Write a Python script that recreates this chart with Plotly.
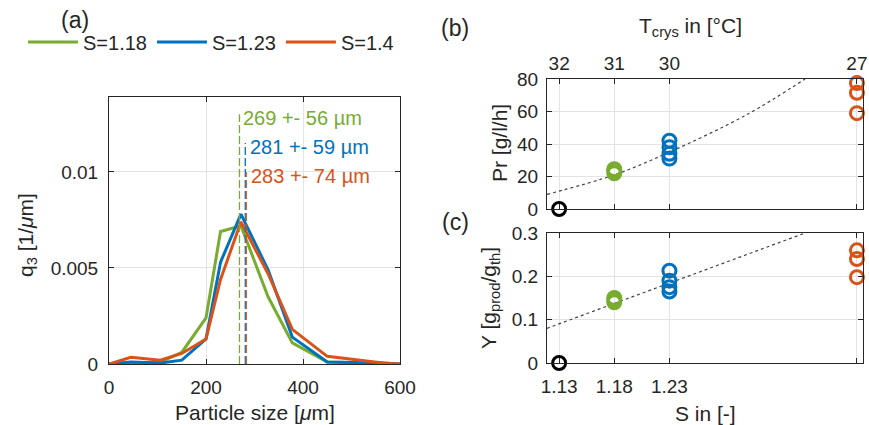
import plotly.graph_objects as go

# ---------------- data ----------------
size_um = [0, 45, 106, 150, 200, 230, 272, 328, 378, 450, 565, 600]
q3_S118 = [0, 0.00005, 0.0001, 0.0006, 0.0024, 0.0069, 0.0072, 0.0035, 0.0011, 0.0001, 0, 0]
q3_S123 = [0, 0.0001, 0.00005, 0.0002, 0.0013, 0.0053, 0.0078, 0.0049, 0.0014, 0.0001, 0.00005, 0]
q3_S14 = [0, 0.00035, 0.0002, 0.00055, 0.0013, 0.0044, 0.0074, 0.0047, 0.0018, 0.0004, 0.00005, 0]
series_names = ["S=1.18", "S=1.23", "S=1.4"]
mean_size = [269, 281, 283]
std_size = [56, 59, 74]
mean_line_top = [0.0130, 0.0115, 0.0100]

S_black = [1.13]
Pr_black = [0]
Y_black = [0]
S_green = [1.18, 1.18, 1.18]
Pr_green = [22, 23.5, 24.5]
Y_green = [0.14, 0.145, 0.15]
S_blue = [1.23, 1.23, 1.23, 1.23]
Pr_blue = [42, 38, 34, 31]
Y_blue = [0.213, 0.19, 0.175, 0.165]
S_orange = [1.4, 1.4, 1.4]
Pr_orange = [77.5, 71.5, 59]
Y_orange = [0.26, 0.24, 0.198]

fit_Pr_S = [1.119, 1.18, 1.23, 1.30, 1.353]
fit_Pr = [9, 21, 35, 58, 80]
fit_Y_S = [1.119, 1.353]
fit_Y = [0.08, 0.30]

S_ticks = [1.13, 1.18, 1.23, 1.4]
S_ticktext = ["1.13", "1.18", "1.23", "1.4"]
T_ticktext = ["32", "31", "30", "27"]

# ---------------- style ----------------
GREEN = "#77AC30"
BLUE = "#0072BD"
ORANGE = "#D95319"
colors = [GREEN, BLUE, ORANGE]
FONT = "Liberation Sans, Arial, sans-serif"
AX = "#262626"
GRID = "#e3e3e3"
W, H = 869, 425

def px_x(p):
    return p / W

def px_y(p):
    return 1 - p / H

fig = go.Figure()

# panel (a)
for name, ys, c in zip(series_names, [q3_S118, q3_S123, q3_S14], colors):
    fig.add_trace(go.Scatter(x=size_um, y=ys, mode="lines", name=name,
                             line=dict(color=c, width=3), xaxis="x", yaxis="y"))
for m, top, c in zip(mean_size, mean_line_top, colors):
    fig.add_trace(go.Scatter(x=[m, m], y=[0, top], mode="lines", showlegend=False,
                             line=dict(color=c, width=1.3, dash="8px,3px"),
                             xaxis="x", yaxis="y", hoverinfo="skip"))

# panel (b)
fig.add_trace(go.Scatter(x=fit_Pr_S, y=fit_Pr, mode="lines", showlegend=False,
                         line=dict(color="#444", width=1.2, dash="dot", shape="spline"),
                         xaxis="x2", yaxis="y2"))
mk = dict(symbol="circle-open", size=13)
for xs, ys, c in [(S_black, Pr_black, "black"), (S_green, Pr_green, GREEN),
                  (S_blue, Pr_blue, BLUE), (S_orange, Pr_orange, ORANGE)]:
    fig.add_trace(go.Scatter(x=xs, y=ys, mode="markers", showlegend=False,
                             marker=dict(mk, color=c, line=dict(width=3, color=c)),
                             xaxis="x2", yaxis="y2", cliponaxis=False))

# panel (c)
fig.add_trace(go.Scatter(x=fit_Y_S, y=fit_Y, mode="lines", showlegend=False,
                         line=dict(color="#444", width=1.2, dash="dot"),
                         xaxis="x3", yaxis="y3"))
for xs, ys, c in [(S_black, Y_black, "black"), (S_green, Y_green, GREEN),
                  (S_blue, Y_blue, BLUE), (S_orange, Y_orange, ORANGE)]:
    fig.add_trace(go.Scatter(x=xs, y=ys, mode="markers", showlegend=False,
                             marker=dict(mk, color=c, line=dict(width=3, color=c)),
                             xaxis="x3", yaxis="y3", cliponaxis=False))

axis_common = dict(showline=True, linecolor=AX, linewidth=1, mirror="ticks",
                   ticks="inside", ticklen=5, tickcolor=AX, gridcolor=GRID,
                   showgrid=True, zeroline=False, automargin=False,
                   tickfont=dict(family=FONT, size=19, color="#262626"))

S_range = [1.119, 1.4055]

fig.update_layout(
    width=W, height=H,
    margin=dict(l=0, r=0, t=0, b=0, autoexpand=False),
    paper_bgcolor="white", plot_bgcolor="white",
    font=dict(family=FONT, size=19, color="#262626"),
    showlegend=True,
    legend=dict(orientation="h", x=px_x(23), y=px_y(42), xanchor="left", yanchor="middle",
                font=dict(family=FONT, size=20, color="#262626"),
                bgcolor="rgba(0,0,0,0)", itemwidth=50, tracegroupgap=0),
    xaxis=dict(axis_common, domain=[px_x(109), px_x(400)], range=[0, 600],
               tickvals=[0, 200, 400, 600], anchor="y", ticklabelstandoff=6),
    yaxis=dict(axis_common, domain=[px_y(364), px_y(97)], range=[0, 0.0139],
               tickvals=[0, 0.005, 0.01], ticktext=["0", "0.005", "0.01"],
               anchor="x", ticklabelstandoff=6),
    xaxis2=dict(axis_common, domain=[px_x(547), px_x(863)], range=S_range,
                tickvals=S_ticks, showticklabels=False, anchor="y2"),
    yaxis2=dict(axis_common, domain=[px_y(209), px_y(79)], range=[0, 80],
                tickvals=[0, 20, 40, 60, 80], anchor="x2", ticklabelstandoff=4),
    xaxis4=dict(range=S_range, overlaying="x2", side="top", anchor="y2",
                tickvals=S_ticks, ticktext=T_ticktext, showgrid=False, showline=False,
                ticks="", zeroline=False, ticklabelstandoff=4, automargin=False,
                tickfont=dict(family=FONT, size=19, color="#262626")),
    xaxis3=dict(axis_common, domain=[px_x(547), px_x(863)], range=S_range,
                tickvals=S_ticks, ticktext=S_ticktext, anchor="y3", ticklabelstandoff=6),
    yaxis3=dict(axis_common, domain=[px_y(363), px_y(233)], range=[0, 0.3],
                tickvals=[0, 0.1, 0.2, 0.3], anchor="x3", ticklabelstandoff=4),
)

# invisible trace to activate xaxis4
fig.add_trace(go.Scatter(x=S_ticks, y=[None] * 4, xaxis="x4", yaxis="y2",
                         showlegend=False, hoverinfo="skip", mode="markers"))

ann = []
text_y = [0.0128, 0.0113, 0.0098]
text_x = [273, 286, 288]
for m, s, c, ty, tx in zip(mean_size, std_size, colors, text_y, text_x):
    ann.append(dict(x=tx, y=ty, xref="x", yref="y", text=f"{m} +- {s} µm",
                    showarrow=False, xanchor="left", yanchor="middle",
                    font=dict(family=FONT, size=20, color=c)))

def paper_text(t, x, y, size=21, angle=0):
    return dict(x=px_x(x), y=px_y(y), xref="paper", yref="paper", text=t,
                showarrow=False, xanchor="center", yanchor="middle", textangle=angle,
                font=dict(family=FONT, size=size, color="#262626"))

# panel letters
for t, x, y in [("(a)", 75, 20), ("(b)", 455, 28), ("(c)", 455, 222)]:
    ann.append(paper_text(t, x, y, size=23))
# axis titles
ann.append(paper_text("Particle size [<i>μ</i>m]", 255, 412))
ann.append(paper_text("q<sub>3</sub> [1/<i>μ</i>m]", 27, 235, angle=-90))
ann.append(paper_text("Pr [g/l/h]", 500, 143, angle=-90))
ann.append(paper_text("Y [g<sub>prod</sub>/g<sub>th</sub>]", 490, 298, angle=-90))
ann.append(paper_text("S in [-]", 705, 413))
ann.append(paper_text("T<sub>crys</sub> in [°C]", 690, 27))
fig.update_layout(annotations=ann)

fig.write_html("out.html", config={"displayModeBar": False},
               post_script="document.body.style.margin='0px';"
                           "document.body.style.overflow='hidden';")
